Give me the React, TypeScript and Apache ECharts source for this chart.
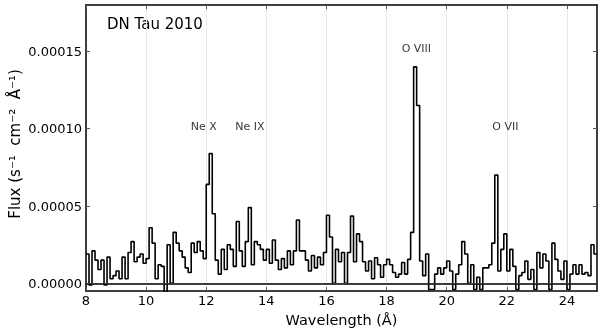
import React, { useEffect, useRef } from "react";
import * as echarts from "echarts";

// Spectrum binning (Å) and flux in units of 1e-5 photons s^-1 cm^-2 Å^-1
const BIN_START = 8.0;
const BIN_WIDTH = 0.1;
const WAVE_END = 25.0;
const FLUX_UNIT = 1e-5;

const flux08to12 = [
  1.9, -0.1, 2.1, 1.5, 0.9, 1.5, -0.1, 1.7, 0.3, 0.5,
  0.8, 0.3, 1.7, 0.3, 2.0, 2.7, 1.4, 1.7, 1.9, 1.3,
  1.6, 3.6, 2.6, 0.3, 1.2, 1.1, -0.9, 2.5, 0.0, 3.3,
  2.6, 2.1, 1.7, 1.0, 0.7, 2.6, 2.0, 2.7, 2.1, 1.6,
];
const flux12to16 = [
  6.4, 8.4, 4.5, 1.5, 0.6, 2.2, 0.9, 2.5, 2.2, 1.1,
  4.0, 2.1, 1.1, 2.7, 4.9, 1.2, 2.7, 2.5, 2.2, 1.5,
  2.2, 1.3, 2.8, 1.5, 0.9, 1.6, 1.0, 2.1, 1.2, 2.1,
  4.1, 2.1, 2.1, 1.5, 0.8, 1.8, 1.0, 1.7, 1.2, 2.0,
];
const flux16to20 = [
  4.4, 3.0, 0.0, 2.2, 1.4, 2.0, 0.0, 2.0, 4.35, 1.4,
  3.2, 2.7, 1.4, 0.8, 1.45, 0.3, 1.66, 1.2, 0.4, 1.2,
  1.55, 1.2, 0.7, 0.4, 0.6, 1.35, 0.6, 1.55, 3.3, 14.0,
  11.5, 1.45, 0.5, 1.9, -0.4, -0.4, 0.6, 1.0, 0.6, 1.0,
];
const flux20to25 = [
  1.45, 0.8, -0.4, 0.6, 1.2, 2.7, 1.9, 0.0, 1.2, -0.4,
  0.4, -0.4, 1.0, 1.0, 1.2, 2.6, 7.0, 0.8, 2.2, 3.2,
  0.8, 2.2, 1.1, -0.4, 0.5, 0.7, 1.45, 0.26, 0.9, -0.4,
  2.0, 1.0, 1.9, 1.45, -0.4, 2.6, 1.55, 0.8, 0.26, 1.45,
  -0.4, 0.6, 1.2, 0.6, 1.2, 0.6, 0.7, 0.5, 2.5, 1.9,
];

const xTicks = [8, 10, 12, 14, 16, 18, 20, 22, 24];
const yTicks = [0, 0.00005, 0.0001, 0.00015];

const lineNames = ["Ne X", "Ne IX", "O VIII", "O VII"];
const lineLabelX = [11.92, 13.45, 18.99, 21.95];
const lineLabelY = [0.0001, 0.0001, 0.00015, 0.0001];

const FONT = "DejaVu Sans";

export default function App() {
  const ref = useRef<HTMLDivElement>(null);

  useEffect(() => {
    if (!ref.current) return;
    const chart = echarts.init(ref.current, undefined, { renderer: "svg" });

    const allFlux = [...flux08to12, ...flux12to16, ...flux16to20, ...flux20to25];
    const points: number[][] = allFlux.map((v, i) => [
      Math.round((BIN_START + i * BIN_WIDTH) * 100) / 100,
      v * FLUX_UNIT,
    ]);
    points.push([WAVE_END, allFlux[allFlux.length - 1] * FLUX_UNIT]);

    const labelData = lineNames.map((n, i) => ({ name: n, value: [lineLabelX[i], lineLabelY[i]] }));

    const frame = { show: true, onZero: false, lineStyle: { color: "#000", width: 1.5 } };
    const tick = { show: true, inside: true, length: 4, lineStyle: { color: "#555", width: 1 } };

    chart.setOption({
      animation: false,
      grid: { left: 86, right: 3, top: 5, bottom: 39, containLabel: false },
      xAxis: [
        {
          type: "value",
          min: 8,
          max: 25,
          interval: 2,
          position: "bottom",
          axisLine: frame,
          axisTick: { ...tick, customValues: xTicks },
          axisLabel: {
            customValues: xTicks,
            fontSize: 13,
            color: "#000",
            fontFamily: FONT,
            margin: 3,
          },
          splitLine: { show: true, lineStyle: { color: "#e8e8e8", width: 1 } },
          name: "Wavelength (Å)",
          nameLocation: "middle",
          nameGap: 20,
          nameTextStyle: { fontSize: 14.5, color: "#000", fontFamily: FONT },
        },
        {
          type: "value",
          min: 8,
          max: 25,
          interval: 2,
          position: "top",
          axisLine: frame,
          axisTick: { ...tick, customValues: xTicks },
          axisLabel: { show: false },
          splitLine: { show: false },
        },
      ],
      yAxis: [
        {
          type: "value",
          min: -0.000005,
          max: 0.00018,
          position: "left",
          axisLine: frame,
          axisTick: { ...tick, customValues: yTicks },
          axisLabel: {
            customValues: yTicks,
            formatter: (v: number) => v.toFixed(5),
            fontSize: 13,
            color: "#000",
            fontFamily: FONT,
            margin: 4,
          },
          splitLine: { show: false },
        },
        {
          type: "value",
          min: -0.000005,
          max: 0.00018,
          position: "right",
          axisLine: frame,
          axisTick: { ...tick, customValues: yTicks },
          axisLabel: { show: false },
          splitLine: { show: false },
        },
      ],
      graphic: [
        {
          type: "text",
          x: 107,
          y: 24,
          style: {
            text: "DN Tau 2010",
            fontSize: 15,
            fontFamily: FONT,
            fill: "#000",
            verticalAlign: "middle",
            align: "left",
          },
        },
        {
          type: "text",
          x: 15,
          y: 144,
          rotation: Math.PI / 2,
          style: {
            text: "Flux (s⁻¹  cm⁻²  Å⁻¹)",
            fontSize: 15,
            fontFamily: FONT,
            fill: "#000",
            verticalAlign: "middle",
            align: "center",
          },
        },
      ],
      series: [
        {
          name: "grid",
          type: "line",
          data: [],
          z: 1,
          silent: true,
          markLine: {
            silent: true,
            symbol: "none",
            label: { show: false },
            lineStyle: { color: "#e8e8e8", width: 1, type: "solid" },
            data: yTicks.filter((t) => t !== 0).map((t) => ({ yAxis: t })),
          },
        },
        {
          name: "spectrum",
          type: "line",
          step: "end",
          data: points,
          showSymbol: false,
          z: 3,
          lineStyle: { color: "#000", width: 1.6 },
          markLine: {
            silent: true,
            symbol: "none",
            label: { show: false },
            lineStyle: { color: "#000", width: 1.5, type: "solid" },
            data: [{ yAxis: 0 }],
          },
        },
        {
          name: "labels",
          type: "scatter",
          data: labelData,
          symbolSize: 0,
          z: 4,
          silent: true,
          label: {
            show: true,
            position: "top",
            distance: 0,
            offset: [0, 3],
            formatter: (p: any) => p.name,
            fontSize: 11,
            fontFamily: FONT,
            color: "#000",
          },
        },
      ],
    });

    return () => chart.dispose();
  }, []);

  return (
    <div
      ref={ref}
      style={{ position: "fixed", left: 0, top: 0, width: 600, height: 332 }}
    />
  );
}
